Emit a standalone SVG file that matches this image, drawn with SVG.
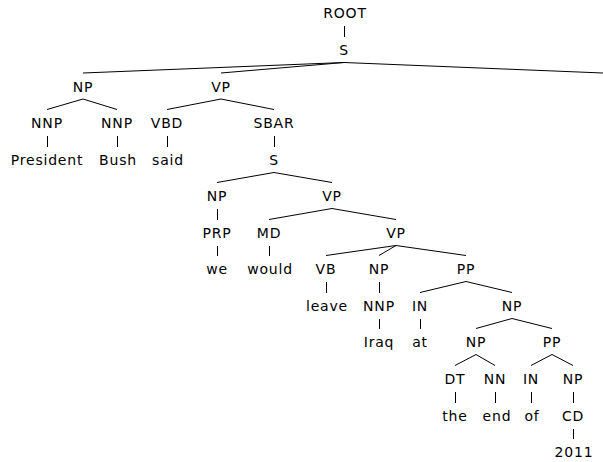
<svg xmlns="http://www.w3.org/2000/svg" width="603" height="462" viewBox="0 0 603 462">
<style>
text{font-family:"DejaVu Sans","Liberation Sans",sans-serif;font-size:14px;letter-spacing:0.8px;fill:#000;text-anchor:middle}
#edges line{stroke:#000;stroke-width:1;fill:none}
</style>
<rect width="603" height="462" fill="#fff"/>
<g id="edges">
<line x1="344.5" y1="26" x2="344.5" y2="37"/>
<line x1="344" y1="62.5" x2="83" y2="73"/>
<line x1="344" y1="62.5" x2="221" y2="73"/>
<line x1="344" y1="62.5" x2="603" y2="73"/>
<line x1="83" y1="99" x2="47" y2="109.5"/>
<line x1="83" y1="99" x2="117" y2="109.5"/>
<line x1="221" y1="99" x2="167" y2="109.5"/>
<line x1="221" y1="99" x2="274" y2="109.5"/>
<line x1="47.5" y1="136" x2="47.5" y2="147"/>
<line x1="117.5" y1="136" x2="117.5" y2="147"/>
<line x1="167.5" y1="136" x2="167.5" y2="147"/>
<line x1="274.5" y1="136" x2="274.5" y2="147"/>
<line x1="274" y1="172.5" x2="217" y2="182.5"/>
<line x1="274" y1="172.5" x2="332" y2="182.5"/>
<line x1="217.5" y1="209" x2="217.5" y2="220"/>
<line x1="332" y1="208.5" x2="269" y2="219.5"/>
<line x1="332" y1="208.5" x2="396" y2="219.5"/>
<line x1="217.5" y1="246" x2="217.5" y2="256"/>
<line x1="269.5" y1="246" x2="269.5" y2="256"/>
<line x1="396" y1="245.5" x2="326" y2="255.5"/>
<line x1="396" y1="245.5" x2="379" y2="255.5"/>
<line x1="396" y1="245.5" x2="466" y2="255.5"/>
<line x1="326.5" y1="282" x2="326.5" y2="293"/>
<line x1="379.5" y1="282" x2="379.5" y2="293"/>
<line x1="466" y1="281.5" x2="420" y2="292.5"/>
<line x1="466" y1="281.5" x2="512" y2="292.5"/>
<line x1="379.5" y1="319" x2="379.5" y2="329"/>
<line x1="420.5" y1="319" x2="420.5" y2="329"/>
<line x1="512" y1="318.5" x2="476" y2="328.5"/>
<line x1="512" y1="318.5" x2="552" y2="328.5"/>
<line x1="476" y1="354.5" x2="455" y2="365.5"/>
<line x1="476" y1="354.5" x2="495" y2="365.5"/>
<line x1="552" y1="354.5" x2="531" y2="365.5"/>
<line x1="552" y1="354.5" x2="573" y2="365.5"/>
<line x1="455.5" y1="392" x2="455.5" y2="403"/>
<line x1="495.5" y1="392" x2="495.5" y2="403"/>
<line x1="531.5" y1="392" x2="531.5" y2="403"/>
<line x1="573.5" y1="392" x2="573.5" y2="403"/>
<line x1="573.5" y1="429" x2="573.5" y2="439"/>
</g>
<g id="n-root"><text x="345" y="18">ROOT</text></g>
<g id="n-s1"><text x="344" y="55">S</text></g>
<g id="n-np1"><text x="83" y="91.5">NP</text></g>
<g id="n-vp1"><text x="221" y="91.5">VP</text></g>
<g id="n-nnp1"><text x="47" y="128">NNP</text></g>
<g id="n-nnp2"><text x="117" y="128">NNP</text></g>
<g id="n-vbd"><text x="167" y="128">VBD</text></g>
<g id="n-sbar"><text x="274" y="128">SBAR</text></g>
<g id="w-president"><text x="47" y="165">President</text></g>
<g id="w-bush"><text x="118" y="165">Bush</text></g>
<g id="w-said"><text x="168" y="165">said</text></g>
<g id="n-s2"><text x="274" y="165">S</text></g>
<g id="n-np2"><text x="217" y="201">NP</text></g>
<g id="n-vp2"><text x="332" y="201">VP</text></g>
<g id="n-prp"><text x="217" y="238">PRP</text></g>
<g id="n-md"><text x="269" y="238">MD</text></g>
<g id="n-vp3"><text x="396" y="238">VP</text></g>
<g id="w-we"><text x="217" y="274">we</text></g>
<g id="w-would"><text x="270" y="274">would</text></g>
<g id="n-vb"><text x="326" y="274">VB</text></g>
<g id="n-np3"><text x="379" y="274">NP</text></g>
<g id="n-pp1"><text x="466" y="274">PP</text></g>
<g id="w-leave"><text x="327" y="311">leave</text></g>
<g id="n-nnp3"><text x="379" y="311">NNP</text></g>
<g id="n-in1"><text x="420" y="311">IN</text></g>
<g id="n-np4"><text x="512" y="311">NP</text></g>
<g id="w-iraq"><text x="379" y="347">Iraq</text></g>
<g id="w-at"><text x="420" y="347">at</text></g>
<g id="n-np5"><text x="476" y="347">NP</text></g>
<g id="n-pp2"><text x="552" y="347">PP</text></g>
<g id="n-dt"><text x="455" y="384">DT</text></g>
<g id="n-nn"><text x="495" y="384">NN</text></g>
<g id="n-in2"><text x="531" y="384">IN</text></g>
<g id="n-np6"><text x="573" y="384">NP</text></g>
<g id="w-the"><text x="455" y="421">the</text></g>
<g id="w-end"><text x="497" y="421">end</text></g>
<g id="w-of"><text x="532" y="421">of</text></g>
<g id="n-cd"><text x="573" y="421">CD</text></g>
<g id="w-2011"><text x="574" y="457">2011</text></g>
</svg>
